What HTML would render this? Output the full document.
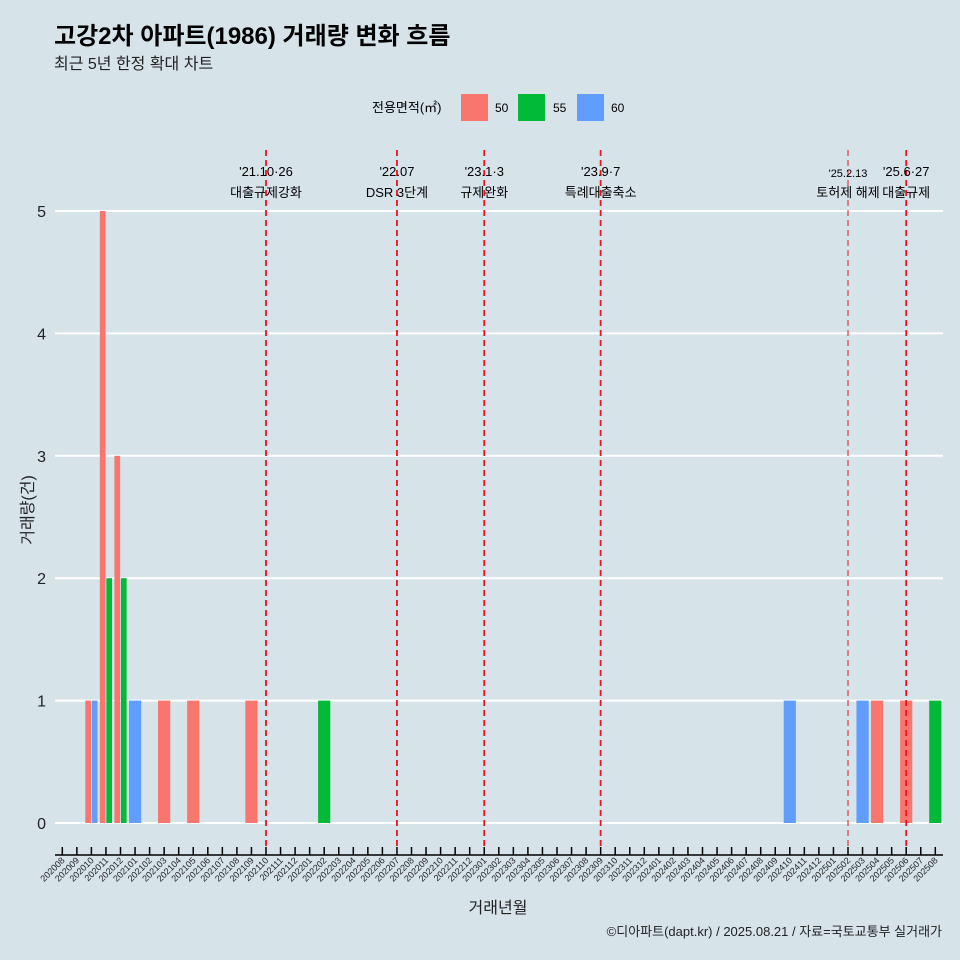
<!DOCTYPE html>
<html><head><meta charset="utf-8"><style>
body{margin:0;background:#d6e4ea;}
svg{display:block;font-family:"Liberation Sans","Noto Sans CJK KR",sans-serif;}
</style></head><body>
<svg id="c" width="960" height="960" viewBox="0 0 960 960">
<rect width="960" height="960" fill="#d6e4ea"/>
<text x="54" y="44" font-size="24" font-weight="bold" fill="#000">고강2차 아파트(1986) 거래량 변화 흐름</text>
<text x="54" y="69" font-size="16" fill="#222">최근 5년 한정 확대 차트</text>
<g>
<text x="372" y="112" font-size="13" fill="#000">전용면적(㎡)</text>
<rect x="461" y="94" width="27" height="27" fill="#F8766D"/>
<text x="495" y="112" font-size="12">50</text>
<rect x="518" y="94" width="27" height="27" fill="#00BA38"/>
<text x="553" y="112" font-size="12">55</text>
<rect x="577" y="94" width="27" height="27" fill="#619CFF"/>
<text x="611" y="112" font-size="12">60</text>
</g>
<g id="grid"></g><g id="bars"></g><g id="events"></g><g id="xaxis"></g>
<text transform="translate(33,510) rotate(-90)" text-anchor="middle" font-size="16" fill="#222">거래량(건)</text>
<text x="498" y="913" text-anchor="middle" font-size="16" fill="#222">거래년월</text>
<text x="942" y="936" text-anchor="end" font-size="13" fill="#222">©디아파트(dapt.kr) / 2025.08.21 / 자료=국토교통부 실거래가</text>
</svg>
<script>
const months=[];for(let y=2020;y<=2025;y++)for(let m=1;m<=12;m++){const k=y*100+m;if(k>=202008&&k<=202508)months.push(String(k));}
const sizes=["50","55","60"];
const colors={"50":"#F8766D","55":"#00BA38","60":"#619CFF"};
const barMonths=["202010","202010","202011","202011","202012","202012","202101","202103","202105","202109","202202","202410","202503","202504","202506","202508"];
const barSizes=["50","60","50","55","50","55","60","50","50","50","55","60","60","50","50","55"];
const barValues=[1,1,5,2,3,2,1,1,1,1,1,1,1,1,1,1];
const yTicks=[0,1,2,3,4,5];
const eventMonths=["202110","202207","202301","202309","202502","202506"];
const eventDates=["'21.10·26","'22.07","'23.1·3","'23.9·7","'25.2.13","'25.6·27"];
const eventLabels=["대출규제강화","DSR 3단계","규제완화","특례대출축소","토허제 해제","대출규제"];
const NS="http://www.w3.org/2000/svg";
function el(t,a,p){const e=document.createElementNS(NS,t);for(const k in a)e.setAttribute(k,a[k]);p.appendChild(e);return e;}
const xs=i=>62.3+i*14.55;
const ys=v=>823-v*122.4;
const grid=document.getElementById('grid');
yTicks.forEach(v=>{
 const l=el('line',{x1:55,x2:943,y1:ys(v),y2:ys(v),stroke:'#fff','stroke-width':2},grid);
 
 
 const t=el('text',{x:46,y:ys(v)+6,'text-anchor':'end','font-size':16,fill:'#222'},grid);
 t.textContent=v;
 
 
});
const bars=document.getElementById('bars');
const bw=13;
barMonths.forEach((m,i)=>{
 const idx=months.indexOf(m);
 const group=barMonths.map((mm,j)=>j).filter(j=>barMonths[j]===m);
 const n=group.length,pos=group.indexOf(i);
 const w=bw/n;
 const x0=xs(idx)-bw/2+pos*w;
 const r=el('rect',{x:x0+0.4,y:ys(barValues[i]),width:w-0.8,height:ys(0)-ys(barValues[i]),fill:colors[barSizes[i]]},bars);
 
 
});
const ev=document.getElementById('events');
eventMonths.forEach((m,i)=>{
 const x=xs(months.indexOf(m));
 const thin=m==="202502";
 const l=el('line',{x1:x,x2:x,y1:150,y2:847,stroke:'#e8141e','stroke-width':thin?1:1.8,'stroke-dasharray':'6 4'},ev);
 
 
 const t1=el('text',{x:x,y:thin?177:176,'text-anchor':'middle','font-size':thin?11:13,fill:'#000'},ev);
 t1.textContent=eventDates[i];
 
 
 const t2=el('text',{x:x,y:197,'text-anchor':'middle','font-size':13,fill:'#000'},ev);
 t2.textContent=eventLabels[i];
 
 
});
const xa=document.getElementById('xaxis');
const ax=el('line',{x1:55,x2:943,y1:855,y2:855,stroke:'#000','stroke-width':1.5},xa);


months.forEach((m,i)=>{
 const x=xs(i);
 const tk=el('line',{x1:x,x2:x,y1:847,y2:855,stroke:'#000','stroke-width':1.5},xa);
 
 
 const t=el('text',{transform:`translate(${x+3},${861}) rotate(-45)`,'text-anchor':'end','font-size':9,fill:'#222'},xa);
 t.textContent=m;
 
 
});
</script>
</body></html>
